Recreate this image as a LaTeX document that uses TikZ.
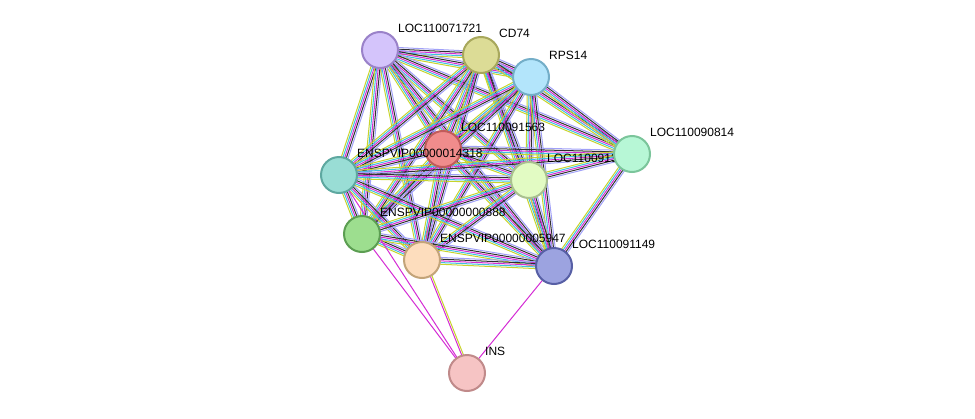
\documentclass[tikz,border=0pt]{standalone}
\usepackage{fontspec}
\setmainfont{Liberation Sans}
\usetikzlibrary{calc}
\definecolor{tm}{HTML}{C8D42C}
\definecolor{db}{HTML}{3FC0E0}
\definecolor{ex}{HTML}{D42BD4}
\definecolor{co}{HTML}{2A2AF0}
\definecolor{hm}{HTML}{A0A0F8}
\definecolor{bk}{HTML}{303030}
\definecolor{f71}{HTML}{D4C4FB}\definecolor{d71}{HTML}{9A82C9}
\definecolor{fcd}{HTML}{DCDC96}\definecolor{dcd}{HTML}{A8A85C}
\definecolor{frps}{HTML}{B3E5FB}\definecolor{drps}{HTML}{74AEC8}
\definecolor{f63}{HTML}{F08C8C}\definecolor{d63}{HTML}{C05B5B}
\definecolor{f14}{HTML}{B7F7D6}\definecolor{d14}{HTML}{7BC59B}
\definecolor{f18}{HTML}{99DDD5}\definecolor{d18}{HTML}{5EA8A0}
\definecolor{f36}{HTML}{E2FBC3}\definecolor{d36}{HTML}{A9C090}
\definecolor{f88}{HTML}{9DDE8F}\definecolor{d88}{HTML}{5C9E52}
\definecolor{f47}{HTML}{FDDDBD}\definecolor{d47}{HTML}{C3A479}
\definecolor{f49}{HTML}{9CA3E0}\definecolor{d49}{HTML}{575FA5}
\definecolor{fins}{HTML}{F6C4C4}\definecolor{dins}{HTML}{C08A8A}
\newcommand\strlink[3]{%
\foreach[count=\i, evaluate=\i as \off using (\i-3)*1.7] \c in {#3}
  \draw[\c,line width=1pt] ($(#1)!\off pt!90:(#2)$) -- ($(#2)!\off pt!-90:(#1)$);}
\begin{document}
\begin{tikzpicture}[x=1pt,y=-1pt,
every node/.style = {font=\fontsize{12}{14}\selectfont},
prot/.style = {
shape=circle,
draw=d#1,
fill=f#1,
line width=2pt,
minimum size=36pt,
inner sep=0pt},
lbl/.style = {anchor=west,inner sep=0pt}
]
\useasboundingbox (0,0) rectangle (975,418);
\coordinate (l71) at (380,50);
\coordinate (cd) at (481,55);
\coordinate (rps) at (531,77);
\coordinate (l63) at (443,149);
\coordinate (l14) at (632,154);
\coordinate (e18) at (339,175);
\coordinate (l36) at (529,180);
\coordinate (e88) at (362,234);
\coordinate (e47) at (422,260);
\coordinate (l49) at (554,266);
\coordinate (ins) at (467,373);
%
\foreach \a/\b in {l71/cd,l71/rps,l71/l63,l71/l14,l71/e18,l71/l36,l71/e88,l71/e47,l71/l49,
cd/rps,cd/l63,cd/l14,cd/e18,cd/l36,cd/e88,cd/e47,cd/l49,
rps/l63,rps/l14,rps/e18,rps/l36,rps/e88,rps/e47,rps/l49,
l63/l14,l63/e18,l63/l36,l63/e88,l63/e47,l63/l49,
l14/e18,l14/l36,l14/l49,
e18/l36,e18/e88,e18/e47,e18/l49,
l36/e88,l36/e47,l36/l49,
e88/e47,e88/l49,e47/l49}
  {\strlink{\a}{\b}{tm,db,ex,bk,hm}}
\draw[ex,line width=1pt] (ins) -- (e18);
\draw[ex,line width=1pt] (ins) -- (e88);
\strlink{ins}{e47}{tm,ex}
\draw[ex,line width=1pt] (ins) -- (l49);
%
\node[lbl] (t36) at (547,158) {LOC110091365};
\node[prot=71] (n71) at (l71) {};
\node[prot=cd] (ncd) at (cd) {};
\node[prot=rps] (nrps) at (rps) {};
\node[prot=63] (n63) at (l63) {};
\node[prot=14] (n14) at (l14) {};
\node[prot=18] (n18) at (e18) {};
\node[prot=36] (n36) at (l36) {};
\node[prot=88] (n88) at (e88) {};
\node[prot=47] (n47) at (e47) {};
\node[prot=49] (n49) at (l49) {};
\node[prot=ins] (nins) at (ins) {};
%
\node[lbl] (t71) at (398,28) {LOC110071721};
\node[lbl] (tcd) at (499,33) {CD74};
\node[lbl] (trps) at (549,55) {RPS14};
\node[lbl] (t63) at (461,127) {LOC110091563};
\node[lbl] (t14) at (650,132) {LOC110090814};
\node[lbl] (t18) at (357,153) {ENSPVIP00000014318};
\node[lbl] (t88) at (380,212) {ENSPVIP00000000888};
\node[lbl] (t47) at (440,238) {ENSPVIP00000005947};
\node[lbl] (t49) at (572,244) {LOC110091149};
\node[lbl] (tins) at (485,351) {INS};
\end{tikzpicture}
\end{document}
